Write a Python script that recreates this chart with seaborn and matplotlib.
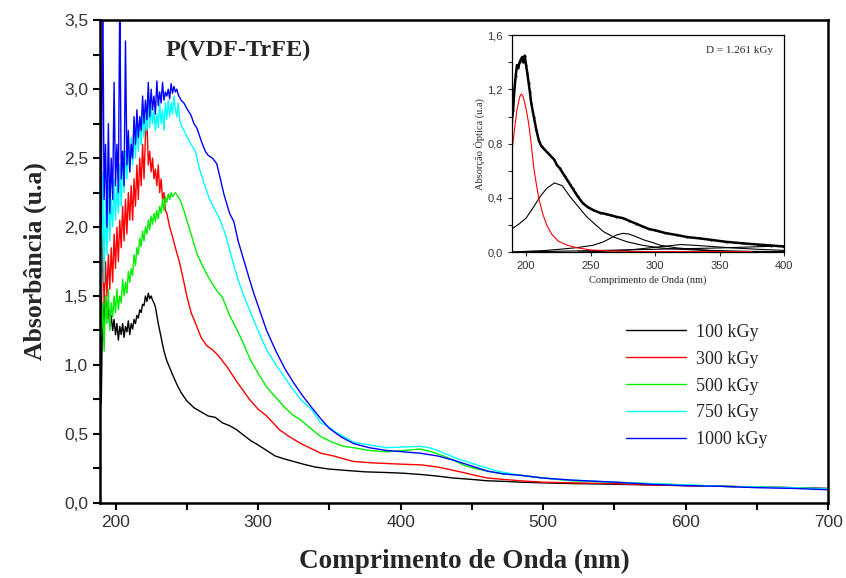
import numpy as np
import pandas as pd
import matplotlib
matplotlib.use("Agg")
import matplotlib.pyplot as plt
from matplotlib.ticker import FuncFormatter, MultipleLocator
import seaborn as sns

# ---------------- data ----------------
labels = ["100 kGy", "300 kGy", "500 kGy", "750 kGy", "1000 kGy"]
colors = ["#000000", "#ff0000", "#00ee00", "#00ffff", "#0000ff"]

bk_x = [189,190,191,192,193,194,195,196,197,198,199,200,201,202,203,204,205,206,207,208,209,210,211,212,213,214,215,216,217,218,219,220,221,222,223,224,225,226,227,228,229,230,232,234,236,238,240,243,246,250,255,260,265,270,275,280,285,290,295,300,306,312,318,325,332,340,350,362,375,390,402,415,425,437,450,461,475,484,500,520,550,575,600,625,650,675,700]
bk_y = [4.0,0.72,1.45,1.3,1.5,1.35,1.42,1.28,1.36,1.25,1.33,1.22,1.3,1.18,1.28,1.22,1.3,1.2,1.28,1.24,1.32,1.22,1.3,1.26,1.33,1.3,1.36,1.34,1.4,1.38,1.44,1.43,1.5,1.46,1.52,1.48,1.5,1.47,1.45,1.42,1.36,1.3,1.2,1.1,1.03,0.98,0.93,0.86,0.8,0.74,0.69,0.66,0.63,0.62,0.58,0.56,0.53,0.49,0.45,0.42,0.38,0.34,0.32,0.30,0.28,0.26,0.245,0.235,0.225,0.22,0.215,0.205,0.195,0.18,0.17,0.16,0.155,0.15,0.145,0.14,0.135,0.13,0.125,0.12,0.115,0.11,0.105]

rd_x = [189,190,191,192,193,194,195,196,197,198,199,200,201,202,203,204,205,206,207,208,209,210,211,212,213,214,215,216,217,218,219,220,221,222,223,224,225,226,227,228,229,230,231,232,233,234,235,236,237,238,240,242,245,248,250,253,257,260,264,268,272,278,285,294,300,306,315,322,330,344,353,367,380,402,415,426,435,444,452,461,484,500,520,550,575,600,625,650,675,700]
rd_y = [4.0,1.3,1.95,1.45,1.75,1.5,1.8,1.55,1.85,1.6,1.95,1.7,2.0,1.75,2.05,1.85,2.15,1.9,2.2,1.95,2.25,2.05,2.3,2.05,2.35,2.15,2.45,2.2,2.5,2.3,2.6,2.35,2.65,2.8,2.45,2.55,2.4,2.5,2.35,2.42,2.3,2.45,2.25,2.35,2.2,2.25,2.12,2.1,2.05,2.0,1.93,1.85,1.74,1.6,1.5,1.38,1.28,1.2,1.14,1.11,1.07,0.99,0.88,0.75,0.68,0.63,0.53,0.48,0.43,0.36,0.34,0.30,0.29,0.28,0.275,0.26,0.24,0.22,0.2,0.18,0.16,0.15,0.145,0.14,0.13,0.125,0.12,0.115,0.11,0.1]

gr_x = [189,190,191,192,193,194,195,196,197,198,199,200,201,202,203,204,205,206,207,208,209,210,211,212,213,214,215,216,217,218,219,220,221,222,223,224,225,226,227,228,229,230,231,232,233,234,235,236,237,238,239,240,242,244,246,248,250,253,257,261,266,271,275,280,285,290,294,300,306,312,318,324,330,338,344,352,360,367,378,390,402,414,422,430,437,445,452,461,472,484,500,520,550,575,600,625,650,675,700]
gr_y = [1.6,1.2,1.45,1.1,1.5,1.3,1.55,1.25,1.45,1.35,1.5,1.38,1.55,1.4,1.5,1.45,1.62,1.5,1.6,1.52,1.68,1.6,1.7,1.65,1.8,1.72,1.85,1.8,1.92,1.86,1.97,1.9,2.0,1.95,2.05,1.98,2.08,2.02,2.1,2.04,2.12,2.06,2.15,2.1,2.2,2.12,2.22,2.18,2.24,2.2,2.25,2.22,2.25,2.22,2.18,2.12,2.05,1.95,1.81,1.72,1.62,1.54,1.49,1.36,1.26,1.15,1.05,0.94,0.84,0.77,0.70,0.64,0.60,0.53,0.48,0.44,0.41,0.40,0.38,0.37,0.38,0.39,0.37,0.34,0.31,0.27,0.25,0.23,0.21,0.2,0.18,0.16,0.15,0.14,0.13,0.12,0.115,0.11,0.1]

cy_x = [189,190,191,192,193,194,195,196,197,198,199,200,201,202,203,204,205,206,207,208,209,210,211,212,213,214,215,216,217,218,219,220,221,222,223,224,225,226,227,228,229,230,231,232,233,234,235,236,237,238,239,240,241,242,243,244,245,246,248,250,253,256,259,262,266,270,273,277,280,283,286,290,294,300,306,312,318,324,330,338,344,348,355,362,367,378,390,402,414,420,426,433,440,449,458,468,476,484,500,520,550,575,600,625,650,675,700]
cy_y = [4.0,1.5,2.4,1.6,2.2,1.8,2.3,1.9,2.2,2.0,2.35,2.05,2.3,2.1,2.45,2.15,2.5,2.25,2.55,2.35,2.6,2.4,2.65,2.45,2.7,2.5,2.75,2.55,2.8,2.6,2.85,2.65,2.8,2.7,2.9,2.72,2.88,2.75,2.85,2.7,2.82,2.72,2.9,2.75,2.85,2.7,2.9,2.78,2.92,2.8,2.9,2.82,2.95,2.85,2.8,2.9,2.78,2.74,2.7,2.66,2.6,2.55,2.42,2.32,2.2,2.12,2.06,1.95,1.84,1.72,1.62,1.5,1.40,1.25,1.11,1.01,0.92,0.83,0.75,0.67,0.58,0.56,0.51,0.47,0.44,0.42,0.40,0.405,0.41,0.40,0.38,0.35,0.32,0.29,0.26,0.23,0.215,0.2,0.18,0.165,0.15,0.14,0.13,0.12,0.115,0.11,0.1]

bl_x = [189,190,191,192,193,194,195,196,197,198,199,200,201,202,203,204,205,206,207,208,209,210,211,212,213,214,215,216,217,218,219,220,221,222,223,224,225,226,227,228,229,230,231,232,233,234,235,236,237,238,239,240,241,242,243,244,246,248,250,253,255,257,259,261,263,265,268,271,274,276,280,283,286,290,294,297,301,306,313,319,325,331,337,344,350,358,367,378,390,402,414,426,437,449,461,472,484,500,520,550,575,600,625,650,675,700]
bl_y = [4.0,2.0,3.8,2.2,2.6,2.0,2.75,2.1,2.5,2.2,3.05,2.3,2.6,2.25,3.7,2.35,2.55,2.3,3.35,2.45,2.7,2.4,2.6,2.5,2.8,2.6,2.85,2.65,2.8,2.7,2.95,2.75,2.92,2.78,3.05,2.8,3.0,2.85,2.95,2.82,3.06,2.88,2.98,2.9,3.05,2.92,2.98,2.95,3.0,2.93,3.04,2.97,3.02,2.98,3.0,2.96,2.92,2.9,2.86,2.81,2.75,2.72,2.66,2.6,2.55,2.52,2.5,2.46,2.33,2.24,2.1,2.04,1.9,1.76,1.62,1.52,1.40,1.25,1.09,0.97,0.87,0.78,0.70,0.61,0.54,0.48,0.43,0.40,0.38,0.37,0.36,0.34,0.31,0.27,0.23,0.21,0.2,0.18,0.165,0.15,0.135,0.125,0.12,0.11,0.105,0.095]

# inset data
exp_x = [189,190,191,192,193,194,195,196,197,198,199,200,201,202,203,204,206,208,210,212,214,216,218,220,222,224,226,228,230,232,234,236,238,240,244,248,252,257,262,266,270,275,280,285,290,295,300,308,317,325,335,343,355,368,380,390,400]
exp_y = [0.97,1.05,1.2,1.3,1.38,1.36,1.4,1.42,1.44,1.4,1.45,1.38,1.32,1.25,1.18,1.1,1.0,0.9,0.82,0.78,0.76,0.74,0.72,0.7,0.68,0.64,0.62,0.59,0.56,0.53,0.5,0.47,0.44,0.41,0.36,0.33,0.31,0.29,0.28,0.27,0.26,0.25,0.23,0.21,0.19,0.17,0.16,0.14,0.125,0.11,0.1,0.09,0.075,0.064,0.055,0.048,0.04]
rg_x = [189,191,193,195,196,197,198,200,202,204,206,208,210,213,216,220,225,232,240,250,265,280,300,330,375]
rg_y = [0.73,0.9,1.05,1.14,1.165,1.16,1.14,1.06,0.95,0.8,0.62,0.5,0.39,0.28,0.2,0.13,0.08,0.05,0.03,0.015,0.008,0.004,0.003,0.003,0.003]
g2_x = [189,195,200,205,211,216,222,228,234,240,247,254,260,268,278,290,304,320,343,370,400]
g2_y = [0.17,0.21,0.25,0.32,0.41,0.47,0.51,0.49,0.41,0.34,0.26,0.2,0.15,0.11,0.076,0.05,0.03,0.02,0.01,0.005,0.003]
g3_x = [189,200,213,226,240,252,260,265,270,275,280,286,291,298,304,317,330,343,356,375,400]
g3_y = [0.0,0.005,0.01,0.02,0.033,0.05,0.075,0.1,0.125,0.138,0.132,0.11,0.09,0.07,0.05,0.03,0.02,0.012,0.006,0.003,0.002]
g4_x = [240,260,280,300,310,320,330,345,360,380,400]
g4_y = [0.0,0.005,0.015,0.035,0.045,0.055,0.05,0.04,0.03,0.02,0.012]
g5_x = [189,250,300,350,400]
g5_y = [0.0,0.01,0.02,0.03,0.045]

# ---------------- style ----------------
sns.set_theme(style="ticks")
plt.rcParams['font.family'] = ['Liberation Serif', 'DejaVu Serif']
NARROW = ['Liberation Sans Narrow', 'Liberation Sans', 'DejaVu Sans']

fig = plt.figure(figsize=(8.46, 5.78), dpi=100)
ax = fig.add_axes([0.118, 0.130, 0.861, 0.835])

series = [(bk_x, bk_y), (rd_x, rd_y), (gr_x, gr_y), (cy_x, cy_y), (bl_x, bl_y)]
frames = []
for lab, (xs, ys) in zip(labels, series):
    frames.append(pd.DataFrame({"x": xs, "y": ys, "s": lab}))
df = pd.concat(frames, ignore_index=True)
sns.lineplot(data=df, x="x", y="y", hue="s", palette=colors, hue_order=labels,
             sort=False, estimator=None, linewidth=1.0, ax=ax, legend=True)

ax.set_xlim(189, 700)
ax.set_ylim(0, 3.5)
ax.xaxis.set_major_locator(MultipleLocator(50))
ax.yaxis.set_major_locator(MultipleLocator(0.25))
comma = lambda v, p: ("%.1f" % v).replace(".", ",")
ax.xaxis.set_major_formatter(FuncFormatter(lambda v, p: "%d" % v if abs(v % 100) < 1e-6 else ""))
ax.yaxis.set_major_formatter(FuncFormatter(lambda v, p: comma(v, p) if abs((v * 2) % 1) < 1e-6 else ""))
for lab in ax.get_xticklabels() + ax.get_yticklabels():
    lab.set_family(NARROW)
ax.tick_params(axis="both", which="major", direction="out", length=5, width=1.5,
               labelsize=12.5, colors="black", labelcolor="#333333")
for sp in ax.spines.values():
    sp.set_visible(True)
    sp.set_linewidth(1.8)
    sp.set_color("black")

ax.set_xlabel("Comprimento de Onda (nm)", fontsize=19.5, fontweight="bold", labelpad=14)
ax.set_ylabel("Absorbância (u.a)", fontsize=18.5, fontweight="bold", labelpad=12)
ax.text(0.19, 0.937, "P(VDF-TrFE)", transform=ax.transAxes, fontsize=17.5,
        fontweight="bold", ha="center", va="center")

leg = ax.legend(loc="upper left", bbox_to_anchor=(0.7, 0.405), frameon=False,
                fontsize=13, handlelength=3.3, handletextpad=0.6, labelspacing=0.55)
for l in leg.get_lines():
    l.set_linewidth(1.0)

# ---------------- inset ----------------
ins = fig.add_axes([0.605, 0.564, 0.322, 0.375])
lw = 0.8
sns.lineplot(x=g5_x, y=g5_y, color="black", linewidth=lw, ax=ins, estimator=None, sort=False)
sns.lineplot(x=g4_x, y=g4_y, color="black", linewidth=lw, ax=ins, estimator=None, sort=False)
sns.lineplot(x=g3_x, y=g3_y, color="black", linewidth=lw, ax=ins, estimator=None, sort=False)
sns.lineplot(x=g2_x, y=g2_y, color="black", linewidth=lw, ax=ins, estimator=None, sort=False)
sns.lineplot(x=rg_x, y=rg_y, color="#ff0000", linewidth=lw, ax=ins, estimator=None, sort=False)
sns.lineplot(x=exp_x, y=exp_y, color="black", linewidth=1.8, ax=ins, estimator=None, sort=False,
             marker=".", markersize=3, markeredgewidth=0)
ins.set_xlim(189, 400)
ins.set_ylim(0, 1.6)
ins.xaxis.set_major_locator(MultipleLocator(50))
ins.yaxis.set_major_locator(MultipleLocator(0.4))
ins.yaxis.set_minor_locator(MultipleLocator(0.2))
ins.yaxis.set_major_formatter(FuncFormatter(comma))
ins.xaxis.set_major_formatter(FuncFormatter(lambda v, p: "%d" % v))
for lab in ins.get_xticklabels() + ins.get_yticklabels():
    lab.set_family(NARROW)
ins.tick_params(axis="both", which="both", direction="out", labelsize=8, length=3, width=0.8,
                labelcolor="#333333")
for sp in ins.spines.values():
    sp.set_visible(True)
    sp.set_linewidth(0.9)
    sp.set_color("black")
ins.set_xlabel("Comprimento de Onda (nm)", fontsize=7.5, labelpad=3)
ins.set_ylabel("Absorção Óptica (u.a)", fontsize=7.5, labelpad=2)
ins.text(0.96, 0.93, "D = 1.261 kGy", transform=ins.transAxes, fontsize=8,
         ha="right", va="center")

fig.savefig("out.png", dpi=100)
